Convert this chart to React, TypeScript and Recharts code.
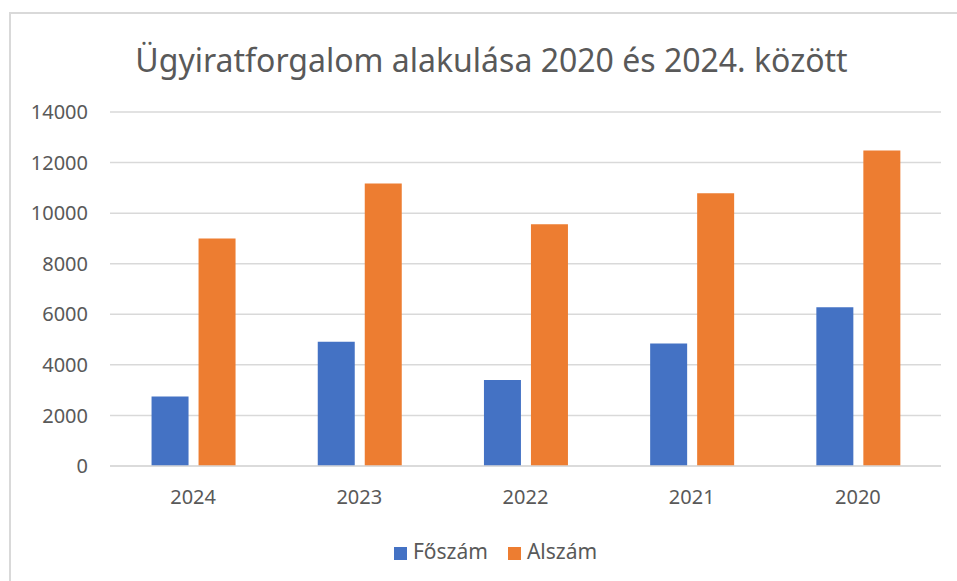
import React from "react";
import { BarChart, Bar, XAxis, YAxis, CartesianGrid, Legend } from "recharts";

const categories = ["2024", "2023", "2022", "2021", "2020"];
const foszam = [2750, 4910, 3400, 4840, 6280];
const alszam = [9000, 11170, 9560, 10790, 12480];
const yTicks = [0, 2000, 4000, 6000, 8000, 10000, 12000, 14000];
const title = "Ügyiratforgalom alakulása 2020 és 2024. között";
const seriesOrder = ["Főszám", "Alszám"];

const data = categories.map((c, i) => ({ year: c, Főszám: foszam[i], Alszám: alszam[i] }));

const FONT = "'Noto Sans', 'Open Sans', sans-serif";
const TEXT = "#595959";

export default function App() {
  return (
    <div style={{ position: "absolute", left: 0, top: 0, width: 957, height: 581, background: "#fff", overflow: "hidden", fontFamily: FONT }}>
      <div style={{ position: "absolute", left: 9, top: 12, width: 960, height: 600, border: "2px solid #D9D9D9", boxSizing: "border-box" }} />
      <div style={{ position: "absolute", left: 0, top: 38, width: 983, textAlign: "center", fontSize: 32, color: TEXT, lineHeight: "44px", whiteSpace: "nowrap" }}>
        {title}
      </div>
      <div style={{ position: "absolute", left: 0, top: 0 }}>
        <BarChart
          width={957}
          height={581}
          data={data}
          margin={{ top: 112, right: 16, bottom: 57, left: 30 }}
          barCategoryGap="25%"
          barGap={10}
        >
          <CartesianGrid vertical={false} stroke="#D9D9D9" strokeWidth={1.5} />
          <XAxis
            dataKey="year"
            tickLine={false}
            axisLine={{ stroke: "#D9D9D9", strokeWidth: 1.5 }}
            tick={{ fill: TEXT, fontSize: 20, fontFamily: FONT }}
            tickMargin={18}
          />
          <YAxis
            width={80}
            domain={[0, 14000]}
            ticks={yTicks}
            interval={0}
            axisLine={false}
            tickLine={false}
            tickMargin={16}
            tick={{ fill: TEXT, fontSize: 20, fontFamily: FONT }}
          />
          <Legend
            verticalAlign="bottom"
            iconType="square"
            iconSize={13}
            itemSorter={(item: any) => seriesOrder.indexOf(item.dataKey)}
            wrapperStyle={{ top: 537, left: 14, width: 983, fontFamily: FONT, fontSize: 21 }}
            formatter={(v: string) => <span style={{ color: TEXT, marginLeft: 2, marginRight: 10 }}>{v}</span>}
          />
          <Bar dataKey="Főszám" fill="#4472C4" isAnimationActive={false} />
          <Bar dataKey="Alszám" fill="#ED7D31" isAnimationActive={false} />
        </BarChart>
      </div>
    </div>
  );
}
